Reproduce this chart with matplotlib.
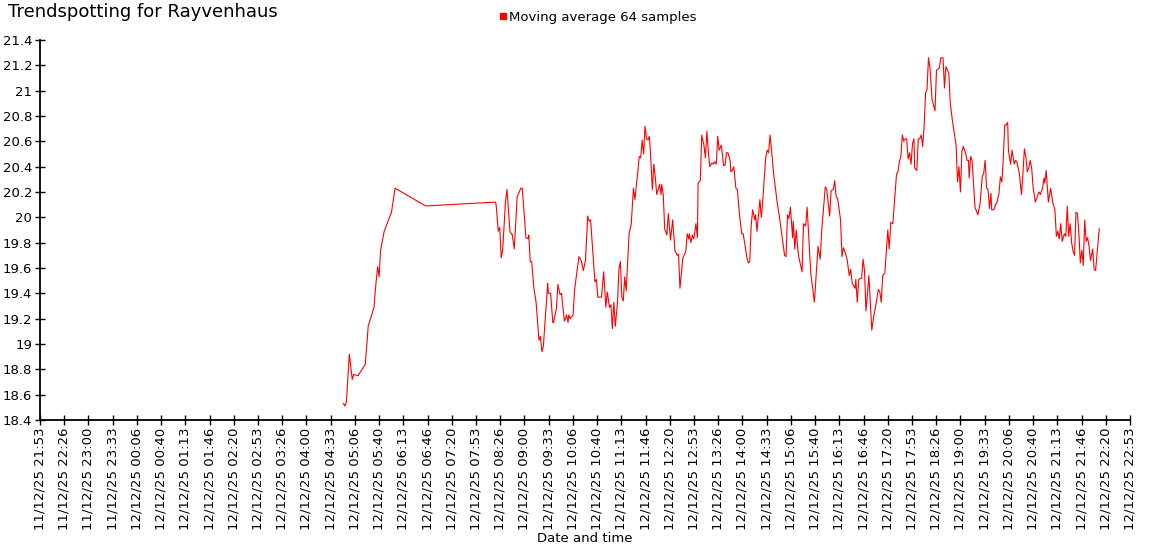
import matplotlib
matplotlib.use("Agg")
import matplotlib.pyplot as plt
import matplotlib.dates as mdates
from matplotlib.lines import Line2D
import pandas as pd
import numpy as np

# sample times on 12/12/25 and the moving average value (deg C)
times = [
    "04:51", "04:53", "04:55", "04:59", "05:03", "05:05", "05:11", "05:21", "05:25", "05:33",
    "05:35", "05:38", "05:40", "05:42", "05:47", "05:57", "06:02", "06:44", "08:20", "08:21",
    "08:24", "08:26", "08:28", "08:30", "08:34", "08:36", "08:40", "08:42", "08:43", "08:46",
    "08:50", "08:55", "08:57", "09:02", "09:05", "09:06", "09:08", "09:10", "09:13", "09:16",
    "09:20", "09:22", "09:24", "09:26", "09:32", "09:33", "09:36", "09:39", "09:40", "09:44",
    "09:46", "09:49", "09:51", "09:55", "09:58", "10:00", "10:01", "10:03", "10:07", "10:09",
    "10:15", "10:18", "10:21", "10:24", "10:27", "10:29", "10:31", "10:37", "10:39", "10:41",
    "10:45", "10:46", "10:49", "10:52", "10:54", "10:57", "10:59", "11:01", "11:03", "11:05",
    "11:08", "11:10", "11:12", "11:14", "11:16", "11:18", "11:20", "11:24", "11:27", "11:30",
    "11:32", "11:36", "11:38", "11:40", "11:42", "11:44", "11:46", "11:48", "11:50", "11:52",
    "11:54", "11:56", "11:58", "12:00", "12:02", "12:06", "12:08", "12:09", "12:11", "12:13",
    "12:16", "12:18", "12:21", "12:24", "12:27", "12:30", "12:32", "12:34", "12:38", "12:42",
    "12:44", "12:46", "12:47", "12:49", "12:51", "12:53", "12:56", "12:58", "12:59", "13:02",
    "13:04", "13:07", "13:09", "13:11", "13:13", "13:15", "13:18", "13:20", "13:22", "13:24",
    "13:26", "13:28", "13:31", "13:34", "13:36", "13:38", "13:40", "13:43", "13:44", "13:46",
    "13:48", "13:51", "13:53", "13:56", "13:59", "14:01", "14:06", "14:08", "14:10", "14:12",
    "14:14", "14:17", "14:18", "14:20", "14:24", "14:26", "14:28", "14:32", "14:34", "14:36",
    "14:38", "14:41", "14:43", "14:48", "14:51", "14:55", "14:58", "15:00", "15:02", "15:04",
    "15:06", "15:09", "15:10", "15:12", "15:14", "15:17", "15:22", "15:24", "15:27", "15:29",
    "15:34", "15:39", "15:44", "15:47", "15:49", "15:54", "15:56", "16:00", "16:02", "16:05",
    "16:07", "16:09", "16:11", "16:15", "16:17", "16:19", "16:21", "16:24", "16:27", "16:29",
    "16:31", "16:35", "16:36", "16:38", "16:40", "16:44", "16:46", "16:48", "16:50", "16:54",
    "16:58", "17:01", "17:03", "17:07", "17:09", "17:11", "17:13", "17:16", "17:20", "17:22",
    "17:24", "17:27", "17:32", "17:34", "17:36", "17:38", "17:40", "17:42", "17:44", "17:46",
    "17:48", "17:50", "17:52", "17:54", "17:56", "17:57", "18:00", "18:02", "18:04", "18:06",
    "18:08", "18:10", "18:12", "18:14", "18:16", "18:18", "18:21", "18:25", "18:27", "18:31",
    "18:33", "18:36", "18:38", "18:40", "18:43", "18:44", "18:46", "18:49", "18:54", "18:56",
    "18:58", "19:00", "19:02", "19:04", "19:07", "19:09", "19:11", "19:12", "19:14", "19:16",
    "19:18", "19:20", "19:24", "19:27", "19:30", "19:32", "19:34", "19:36", "19:38", "19:40",
    "19:42", "19:43", "19:46", "19:49", "19:50", "19:53", "19:55", "19:57", "19:59", "20:01",
    "20:03", "20:05", "20:06", "20:09", "20:11", "20:14", "20:16", "20:18", "20:21", "20:24",
    "20:26", "20:28", "20:30", "20:32", "20:34", "20:36", "20:38", "20:40", "20:43", "20:45",
    "20:48", "20:50", "20:53", "20:55", "20:56", "20:58", "21:01", "21:04", "21:07", "21:10",
    "21:12", "21:14", "21:16", "21:18", "21:20", "21:23", "21:25", "21:27", "21:29", "21:31",
    "21:33", "21:35", "21:37", "21:39", "21:41", "21:43", "21:45", "21:47", "21:49", "21:51",
    "21:53", "21:55", "21:57", "21:59", "22:02", "22:04", "22:06", "22:11",
]

temps = [
    18.53, 18.51, 18.54, 18.92, 18.72, 18.76, 18.75, 18.84, 19.14, 19.29,
    19.44, 19.61, 19.53, 19.74, 19.89, 20.04, 20.23, 20.09, 20.12, 20.10,
    19.89, 19.92, 19.68, 19.74, 20.13, 20.22, 19.89, 19.87, 19.87, 19.75,
    20.16, 20.23, 20.23, 19.84, 19.83, 19.86, 19.65, 19.65, 19.44, 19.33,
    19.03, 19.06, 18.94, 18.98, 19.48, 19.40, 19.40, 19.17, 19.17, 19.28,
    19.47, 19.39, 19.40, 19.18, 19.23, 19.17, 19.23, 19.20, 19.23, 19.43,
    19.69, 19.66, 19.58, 19.66, 20.01, 19.97, 19.98, 19.49, 19.51, 19.37,
    19.37, 19.37, 19.57, 19.29, 19.41, 19.29, 19.31, 19.12, 19.33, 19.14,
    19.32, 19.59, 19.65, 19.37, 19.34, 19.53, 19.42, 19.87, 19.95, 20.23,
    20.14, 20.36, 20.48, 20.47, 20.61, 20.50, 20.72, 20.62, 20.61, 20.64,
    20.45, 20.22, 20.42, 20.32, 20.18, 20.26, 20.18, 20.26, 20.18, 19.91,
    19.86, 20.03, 19.82, 19.98, 19.74, 19.70, 19.71, 19.44, 19.68, 19.73,
    19.87, 19.83, 19.87, 19.80, 19.86, 19.83, 19.95, 19.84, 20.27, 20.29,
    20.65, 20.57, 20.47, 20.68, 20.52, 20.40, 20.43, 20.42, 20.44, 20.42,
    20.64, 20.53, 20.57, 20.41, 20.41, 20.51, 20.51, 20.45, 20.36, 20.37,
    20.40, 20.23, 20.22, 20.02, 19.87, 19.87, 19.69, 19.64, 19.65, 19.93,
    20.06, 19.98, 20.02, 19.89, 20.14, 20.00, 20.14, 20.47, 20.53, 20.51,
    20.65, 20.47, 20.34, 20.11, 20.00, 19.83, 19.70, 19.69, 20.02, 19.99,
    20.08, 19.84, 19.97, 19.75, 19.90, 19.70, 19.57, 19.95, 19.93, 20.08,
    19.56, 19.33, 19.77, 19.67, 19.89, 20.24, 20.22, 20.01, 20.21, 20.22,
    20.29, 20.16, 20.15, 19.98, 19.69, 19.76, 19.73, 19.67, 19.54, 19.59,
    19.48, 19.44, 19.51, 19.33, 19.51, 19.52, 19.67, 19.58, 19.26, 19.54,
    19.11, 19.23, 19.29, 19.43, 19.41, 19.33, 19.54, 19.56, 19.90, 19.75,
    19.96, 19.95, 20.34, 20.36, 20.44, 20.48, 20.65, 20.60, 20.62, 20.62,
    20.46, 20.51, 20.42, 20.58, 20.62, 20.39, 20.37, 20.62, 20.62, 20.65,
    20.56, 20.72, 20.98, 21.01, 21.26, 21.18, 20.93, 20.84, 21.16, 21.18,
    21.26, 21.26, 21.02, 21.19, 21.15, 21.14, 20.90, 20.76, 20.57, 20.28,
    20.40, 20.20, 20.52, 20.56, 20.51, 20.45, 20.45, 20.31, 20.48, 20.45,
    20.27, 20.08, 20.02, 20.11, 20.32, 20.35, 20.45, 20.23, 20.22, 20.07,
    20.19, 20.06, 20.06, 20.11, 20.11, 20.19, 20.32, 20.28, 20.47, 20.73,
    20.73, 20.75, 20.53, 20.42, 20.53, 20.42, 20.45, 20.43, 20.35, 20.18,
    20.35, 20.54, 20.48, 20.36, 20.39, 20.45, 20.39, 20.24, 20.12, 20.15,
    20.20, 20.18, 20.23, 20.31, 20.27, 20.37, 20.12, 20.23, 20.12, 20.06,
    19.85, 19.89, 19.83, 19.95, 19.81, 19.87, 19.85, 20.09, 19.85, 19.95,
    19.80, 19.73, 19.70, 20.04, 20.03, 19.87, 19.64, 19.74, 19.62, 19.98,
    19.81, 19.84, 19.77, 19.66, 19.75, 19.59, 19.58, 19.91,
]

series_name = "Moving average 64 samples"
y_ticks = [18.4, 18.6, 18.8, 19.0, 19.2, 19.4, 19.6, 19.8, 20.0, 20.2, 20.4, 20.6, 20.8, 21.0, 21.2, 21.4]
axis_start = "2025-12-11 21:53:20"
n_ticks = 46

x = pd.to_datetime(["2025-12-12 " + t for t in times])
ticks = pd.date_range(axis_start, periods=n_ticks, freq="2000s")

plt.rcParams['font.family'] = ['DejaVu Sans']
fig = plt.figure(figsize=(11.5, 5.6), dpi=100)
ax = fig.add_axes([40 / 1150, 1 - 420 / 560, 1090 / 1150, 380 / 560])

ax.plot(x, temps, color="#ff0000", lw=0.8)

ax.set_xlim(ticks[0], ticks[-1])
ax.set_ylim(18.4, 21.4)
ax.set_xticks(ticks)
ax.xaxis.set_major_formatter(mdates.DateFormatter("%d/%m/%y %H:%M"))
ax.set_yticks(y_ticks)
ax.set_yticklabels(["%g" % v for v in y_ticks])

for side in ["top", "right"]:
    ax.spines[side].set_visible(False)
for side in ["left", "bottom"]:
    ax.spines[side].set_linewidth(1.3)
ax.tick_params(axis="both", direction="inout", length=7, width=1, labelsize=9.5, color="black")
ax.tick_params(axis="x", labelrotation=90, pad=2)
ax.tick_params(axis="y", pad=2)

ax.set_xlabel("Date and time", fontsize=9.5, labelpad=1)
ax.set_ylabel("°C", fontsize=9.5)
ax.yaxis.set_label_coords(-0.034, 0.53)

fig.text(8 / 1150, 1 - 17 / 560, "Trendspotting for Rayvenhaus", fontsize=13, va="baseline", ha="left")

handle = Line2D([], [], color="#ff0000", marker="s", linestyle="none", markersize=4)
fig.legend([handle], [series_name], loc="center", bbox_to_anchor=(598 / 1150, 1 - 17 / 560),
           frameon=False, fontsize=9.5, handlelength=0.6, handletextpad=0.15, borderpad=0)

fig.savefig("out.png", dpi=100)
